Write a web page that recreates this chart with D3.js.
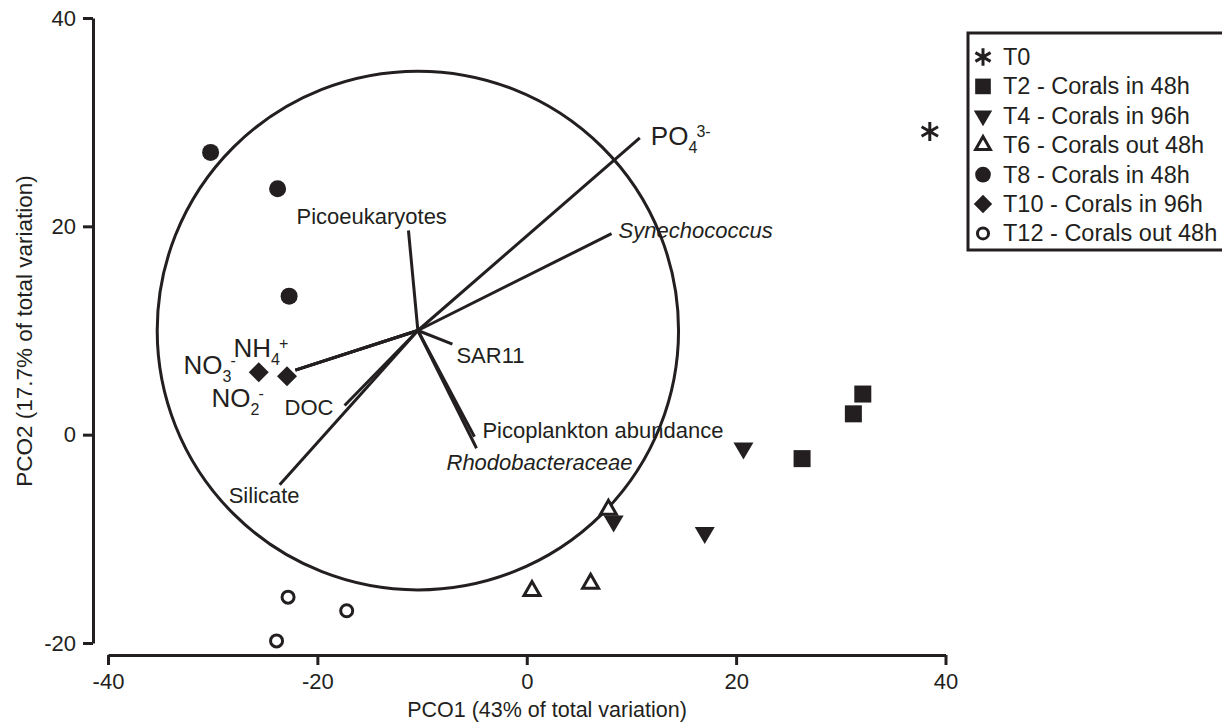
<!DOCTYPE html>
<html>
<head>
<meta charset="utf-8">
<script src="https://cdn.jsdelivr.net/npm/d3@7"></script>
<style>
  html, body { margin: 0; padding: 0; background: #fff; }
  svg { display: block; font-family: "Liberation Sans", Arial, sans-serif; }
</style>
</head>
<body>
<svg id="chart" width="1222" height="722"></svg>
<script>
// ---- axis ticks ----
const xTicks = [-40, -20, 0, 20, 40];
const yTicks = [-20, 0, 20, 40];

// ---- sample scores on PCO1 / PCO2 ----
const pointsT0  = [[38.5, 29.1]];
const pointsT2  = [[32.1, 3.9], [31.2, 2.0], [26.3, -2.3]];
const pointsT4  = [[20.7, -1.3], [8.3, -8.3], [17.0, -9.4]];
const pointsT6  = [[7.8, -7.2], [0.5, -15.0], [6.1, -14.3]];
const pointsT8  = [[-30.2, 27.1], [-23.8, 23.6], [-22.7, 13.3]];
const pointsT10 = [[-25.6, 6.0], [-22.9, 5.6]];
const pointsT12 = [[-22.8, -15.6], [-17.2, -16.9], [-23.9, -19.8]];

const groupNames = [
  "T0",
  "T2 - Corals in 48h",
  "T4 - Corals in 96h",
  "T6 - Corals out 48h",
  "T8 - Corals in 48h",
  "T10 - Corals in 96h",
  "T12 - Corals out 48h"
];
const groupPoints = [pointsT0, pointsT2, pointsT4, pointsT6, pointsT8, pointsT10, pointsT12];

// ---- correlation vectors (end points, same origin) ----
const vectorOrigin = [-10.4, 10.0];
const circleRadius = 24.9;
const vectorNames = ["PO4", "Synechococcus", "Picoeukaryotes", "NH4", "NO3", "NO2", "DOC",
                     "Silicate", "SAR11", "Picoplankton abundance", "Rhodobacteraceae"];
const vectorX = [10.8, 8.1, -11.3, -22.1, -22.1, -22.1, -17.4, -23.6, -7.1, -5.0, -4.8];
const vectorY = [28.5, 19.3, 19.6, 6.2, 6.2, 6.2, 2.8, -4.8, 8.7, -0.2, -1.3];

// ---- drawing setup ----
const ink = "#231f20";
const svg = d3.select("#chart");
const x = d3.scaleLinear().domain([-40, 40]).range([108, 945.5]);
const y = d3.scaleLinear().domain([-20, 40]).range([643, 18]);

// marker shapes per group
const shapes = ["asterisk", "square", "triDown", "triUp", "dot", "diamond", "ring"];
function drawMarker(g, shape, big) {
  const s = big ? 1 : 0.92;
  if (shape === "asterisk") {
    const r = 9.5 * s, t = r / 2, u = t * Math.sqrt(3);
    g.append("path")
      .attr("d", `M0,${-r}V${r}M${-u},${-t}L${u},${t}M${-u},${t}L${u},${-t}`)
      .attr("stroke", ink).attr("stroke-width", 3).attr("fill", "none");
  } else if (shape === "square") {
    const h = 8.5 * s;
    g.append("rect").attr("x", -h).attr("y", -h).attr("width", 2 * h).attr("height", 2 * h)
      .attr("fill", ink);
  } else if (shape === "triDown") {
    const w = 10 * s, hh = 17 * s;
    g.append("path").attr("d", `M${-w},${-hh / 3}H${w}L0,${2 * hh / 3}Z`).attr("fill", ink);
  } else if (shape === "triUp") {
    const w = 8 * s, hh = 14 * s;
    g.append("path").attr("d", `M${-w},${hh / 3}H${w}L0,${-2 * hh / 3}Z`)
      .attr("fill", "#fff").attr("stroke", ink).attr("stroke-width", 3)
      .attr("stroke-linejoin", "miter");
  } else if (shape === "dot") {
    g.append("circle").attr("r", 8.5 * s).attr("fill", ink);
  } else if (shape === "diamond") {
    const d = 10 * s;
    g.append("path").attr("d", `M0,${-d}L${d},0L0,${d}L${-d},0Z`).attr("fill", ink);
  } else if (shape === "ring") {
    g.append("circle").attr("r", 6 * s).attr("fill", "#fff")
      .attr("stroke", ink).attr("stroke-width", 3);
  }
}

// ---- axes ----
const plain = d => String(d);
const yAxis = d3.axisLeft(y).tickValues(yTicks).tickFormat(plain)
  .tickSize(10).tickSizeOuter(0).tickPadding(7);
const xAxis = d3.axisBottom(x).tickValues(xTicks).tickFormat(plain)
  .tickSize(10).tickSizeOuter(0).tickPadding(8);

const gy = svg.append("g").attr("transform", "translate(93,0)").call(yAxis);
const gx = svg.append("g").attr("transform", "translate(0,655)").call(xAxis);
[gx, gy].forEach(g => {
  g.select(".domain").attr("stroke", ink).attr("stroke-width", 3);
  g.selectAll(".tick line").attr("stroke", ink).attr("stroke-width", 3);
  g.selectAll(".tick text").attr("fill", ink).attr("font-size", 22)
    .attr("font-family", "Liberation Sans, Arial, sans-serif");
});

svg.append("text")
  .attr("x", 547).attr("y", 717)
  .attr("text-anchor", "middle").attr("font-size", 21.5).attr("fill", ink)
  .text("PCO1 (43% of total variation)");
svg.append("text")
  .attr("transform", "translate(32,331) rotate(-90)")
  .attr("text-anchor", "middle").attr("font-size", 22.5).attr("fill", ink)
  .text("PCO2 (17.7% of total variation)");

// ---- correlation circle ----
svg.append("ellipse")
  .attr("cx", x(vectorOrigin[0])).attr("cy", y(vectorOrigin[1]))
  .attr("rx", x(circleRadius) - x(0)).attr("ry", y(0) - y(circleRadius))
  .attr("fill", "none").attr("stroke", ink).attr("stroke-width", 3);

// ---- vectors ----
const vectors = vectorNames.map((n, i) => ({ name: n, vx: vectorX[i], vy: vectorY[i] }));
svg.append("g").selectAll("line").data(vectors).join("line")
  .attr("x1", x(vectorOrigin[0])).attr("y1", y(vectorOrigin[1]))
  .attr("x2", d => x(d.vx)).attr("y2", d => y(d.vy))
  .attr("stroke", ink).attr("stroke-width", 3).attr("stroke-linecap", "butt");

// label placement relative to each vector tip (pixels); chemical formulas set larger
const labelLayout = {
  "PO4":                    { dx: 11,  dy: 7,  text: "PO", sub: "4", sup: "3-", size: 26 },
  "Synechococcus":          { dx: 7,   dy: 4,  text: "Synechococcus", italic: true },
  "Picoeukaryotes":         { dx: -112, dy: -7, text: "Picoeukaryotes" },
  "NH4":                    { dx: -62, dy: -13, text: "NH", sub: "4", sup: "+", size: 26 },
  "NO3":                    { dx: -112, dy: 4,  text: "NO", sub: "3", sup: "-", size: 26 },
  "NO2":                    { dx: -84, dy: 37, text: "NO", sub: "2", sup: "-", size: 26 },
  "DOC":                    { dx: -60, dy: 9,  text: "DOC" },
  "Silicate":               { dx: -51, dy: 18, text: "Silicate" },
  "SAR11":                  { dx: 4,   dy: 19, text: "SAR11" },
  "Picoplankton abundance": { dx: 8,   dy: 1,  text: "Picoplankton abundance" },
  "Rhodobacteraceae":       { dx: -30, dy: 22, text: "Rhodobacteraceae", italic: true }
};

const labelG = svg.append("g");
vectors.forEach(v => {
  const L = labelLayout[v.name];
  const lx = x(v.vx) + L.dx, ly = y(v.vy) + L.dy;
  const t = labelG.append("text")
    .attr("x", lx).attr("y", ly).attr("font-size", L.size || 22).attr("fill", ink)
    .attr("font-style", L.italic ? "italic" : null)
    .text(L.text);
  if (L.sub || L.sup) {
    const w = t.node().getComputedTextLength();
    if (L.sub) labelG.append("text").attr("x", lx + w).attr("y", ly + 8)
      .attr("font-size", 16).attr("fill", ink).text(L.sub);
    if (L.sup) labelG.append("text").attr("x", lx + w + 8).attr("y", ly - 8)
      .attr("font-size", 16).attr("fill", ink).text(L.sup);
  }
});

// ---- sample points ----
const pg = svg.append("g");
groupPoints.forEach((pts, gi) => {
  pts.forEach(p => {
    const g = pg.append("g").attr("transform", `translate(${x(p[0])},${y(p[1])})`);
    drawMarker(g, shapes[gi], true);
  });
});

// ---- legend ----
const legend = svg.append("g");
legend.append("rect")
  .attr("x", 968).attr("y", 33).attr("width", 270).attr("height", 217)
  .attr("fill", "#fff").attr("stroke", ink).attr("stroke-width", 3);
groupNames.forEach((name, i) => {
  const cy = 57 + i * 29.4;
  const g = legend.append("g").attr("transform", `translate(983,${cy})`);
  drawMarker(g, shapes[i], false);
  legend.append("text").attr("x", 1003).attr("y", cy + 8)
    .attr("font-size", 23.5).attr("fill", ink).text(name);
});
</script>
</body>
</html>
